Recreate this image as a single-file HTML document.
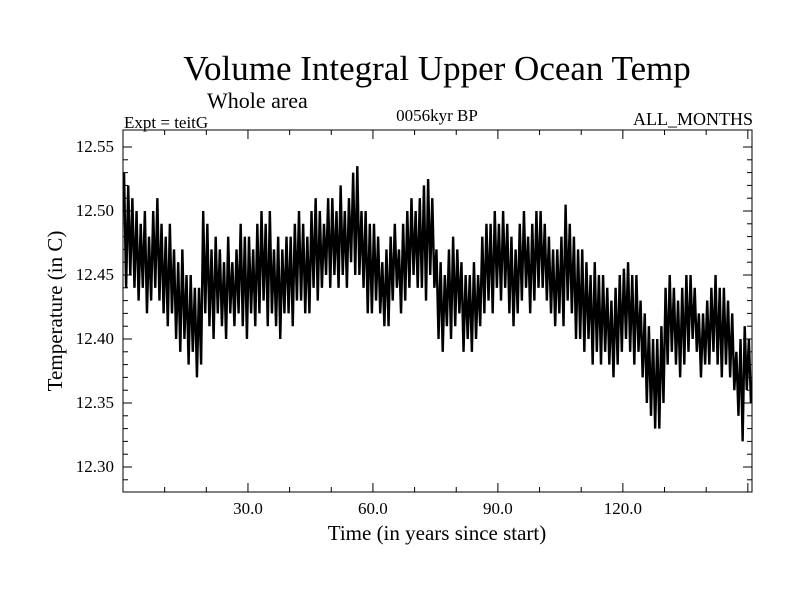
<!DOCTYPE html>
<html><head><meta charset="utf-8"><style>
html,body{margin:0;padding:0;background:#fff;}
svg text{font-family:"Liberation Serif",serif;fill:#000;}
</style></head><body>
<svg id="chart" width="800" height="600" xmlns="http://www.w3.org/2000/svg">
<text x="437" y="80" font-size="35" text-anchor="middle">Volume Integral Upper Ocean Temp</text>
<text x="207" y="108" font-size="22">Whole area</text>
<text x="124" y="128" font-size="17">Expt = teitG</text>
<text x="437" y="121" font-size="17" text-anchor="middle">0056kyr BP</text>
<text x="753" y="125" font-size="18" text-anchor="end">ALL_MONTHS</text>
<text x="437" y="540" font-size="21" text-anchor="middle">Time (in years since start)</text>
<text x="0" y="0" font-size="21" text-anchor="middle" transform="translate(62,311) rotate(-90)">Temperature (in C)</text>
<g id="axes"></g>
<g id="plot"></g>
</svg>
<script>
const peaks=[12.53,12.52,12.51,12.50,12.49,12.50,12.48,12.50,12.51,12.49,
12.48,12.49,12.47,12.46,12.47,12.45,12.45,12.44,12.44,12.50,
12.49,12.47,12.48,12.47,12.46,12.48,12.46,12.47,12.49,12.48,
12.48,12.47,12.49,12.50,12.49,12.50,12.47,12.48,12.47,12.48,
12.48,12.49,12.50,12.49,12.48,12.50,12.51,12.50,12.49,12.51,
12.51,12.50,12.52,12.50,12.51,12.53,12.535,12.50,12.50,12.49,
12.49,12.48,12.46,12.47,12.48,12.49,12.47,12.49,12.50,12.51,
12.50,12.51,12.52,12.525,12.51,12.47,12.46,12.45,12.47,12.48,
12.47,12.46,12.45,12.45,12.46,12.45,12.48,12.49,12.49,12.50,
12.49,12.50,12.49,12.48,12.47,12.49,12.50,12.48,12.49,12.50,
12.50,12.49,12.48,12.47,12.47,12.48,12.505,12.49,12.48,12.47,
12.47,12.46,12.45,12.46,12.45,12.45,12.44,12.43,12.44,12.45,
12.455,12.46,12.45,12.45,12.43,12.42,12.41,12.40,12.40,12.41,
12.44,12.45,12.44,12.43,12.44,12.45,12.45,12.44,12.42,12.42,
12.43,12.44,12.45,12.44,12.44,12.43,12.42,12.39,12.40,12.41,12.40];
const troughs=[12.44,12.45,12.44,12.43,12.44,12.42,12.43,12.44,12.43,12.42,
12.41,12.42,12.40,12.39,12.40,12.38,12.39,12.37,12.38,12.42,
12.41,12.40,12.42,12.41,12.40,12.42,12.41,12.42,12.41,12.40,
12.42,12.41,12.42,12.43,12.41,12.42,12.41,12.40,12.42,12.42,
12.41,12.43,12.43,12.42,12.42,12.44,12.43,12.44,12.45,12.44,
12.45,12.44,12.45,12.44,12.46,12.45,12.45,12.44,12.42,12.42,
12.43,12.42,12.41,12.41,12.43,12.44,12.42,12.43,12.44,12.45,
12.44,12.44,12.43,12.45,12.44,12.40,12.39,12.41,12.40,12.41,
12.42,12.39,12.40,12.39,12.40,12.41,12.42,12.43,12.42,12.44,
12.43,12.44,12.42,12.41,12.42,12.43,12.44,12.42,12.43,12.44,
12.44,12.43,12.42,12.41,12.42,12.41,12.43,12.42,12.40,12.40,
12.39,12.40,12.38,12.39,12.38,12.39,12.38,12.37,12.38,12.39,
12.40,12.39,12.38,12.39,12.37,12.35,12.34,12.33,12.33,12.35,
12.38,12.39,12.38,12.37,12.38,12.39,12.40,12.39,12.37,12.38,
12.38,12.39,12.38,12.37,12.38,12.37,12.36,12.34,12.32,12.36,12.35];
const xTicks=[30,60,90,120];
const xTickLabels=["30.0","60.0","90.0","120.0"];
const yTicks=[12.30,12.35,12.40,12.45,12.50,12.55];
const yTickLabels=["12.30","12.35","12.40","12.45","12.50","12.55"];

const L=123,R=752,T=130,B=492;
const xMin=0,xMax=151;
const X=v=>L+(v-xMin)/(xMax-xMin)*(R-L);
const Y=v=>147+(12.55-v)*1280;
const NS="http://www.w3.org/2000/svg";
const axes=document.getElementById('axes'),plot=document.getElementById('plot');
function mk(tag,attrs,parent){const e=document.createElementNS(NS,tag);for(const k in attrs)e.setAttribute(k,attrs[k]);parent.appendChild(e);return e;}

let d="";
for(let i=0;i<peaks.length;i++){
  const xp=X(i+0.25),xt=X(i+0.75);
  d+=(i===0?"M":"L")+xp.toFixed(2)+","+Y(peaks[i]).toFixed(2)+"L"+xt.toFixed(2)+","+Y(troughs[i]).toFixed(2);
}
const line=mk('path',{d:d,fill:'none',stroke:'#000','stroke-width':2.4,'stroke-linejoin':'miter','stroke-miterlimit':3},plot);



const frame=mk('rect',{x:L,y:T,width:R-L,height:B-T,fill:'none',stroke:'#000','stroke-width':1},axes);



for(let v=10;v<xMax;v+=10){
  const major=v%30===0, len=major?9:5, x=X(v);
  const t1=mk('line',{x1:x,y1:B,x2:x,y2:B-len,stroke:'#000'},axes);
  
  
  const t2=mk('line',{x1:x,y1:T,x2:x,y2:T+len,stroke:'#000'},axes);
  
  
}
xTicks.forEach((v,i)=>{
  const t=mk('text',{x:X(v),y:514,'font-size':17,'text-anchor':'middle'},axes);
  t.textContent=xTickLabels[i];
  
  
});
for(let k=0;k<=27;k++){
  const v=12.28+k*0.01, y=Y(v);
  if(y<T||y>B)continue;
  const major=Math.round(v*100)%5===0, len=major?9:5;
  const t1=mk('line',{x1:L,y1:y,x2:L+len,y2:y,stroke:'#000'},axes);
  
  
  const t2=mk('line',{x1:R,y1:y,x2:R-len,y2:y,stroke:'#000'},axes);
  
  
}
yTicks.forEach((v,i)=>{
  const t=mk('text',{x:114,y:Y(v)+5,'font-size':17,'text-anchor':'end'},axes);
  t.textContent=yTickLabels[i];
  
  
});
</script>
</body></html>
